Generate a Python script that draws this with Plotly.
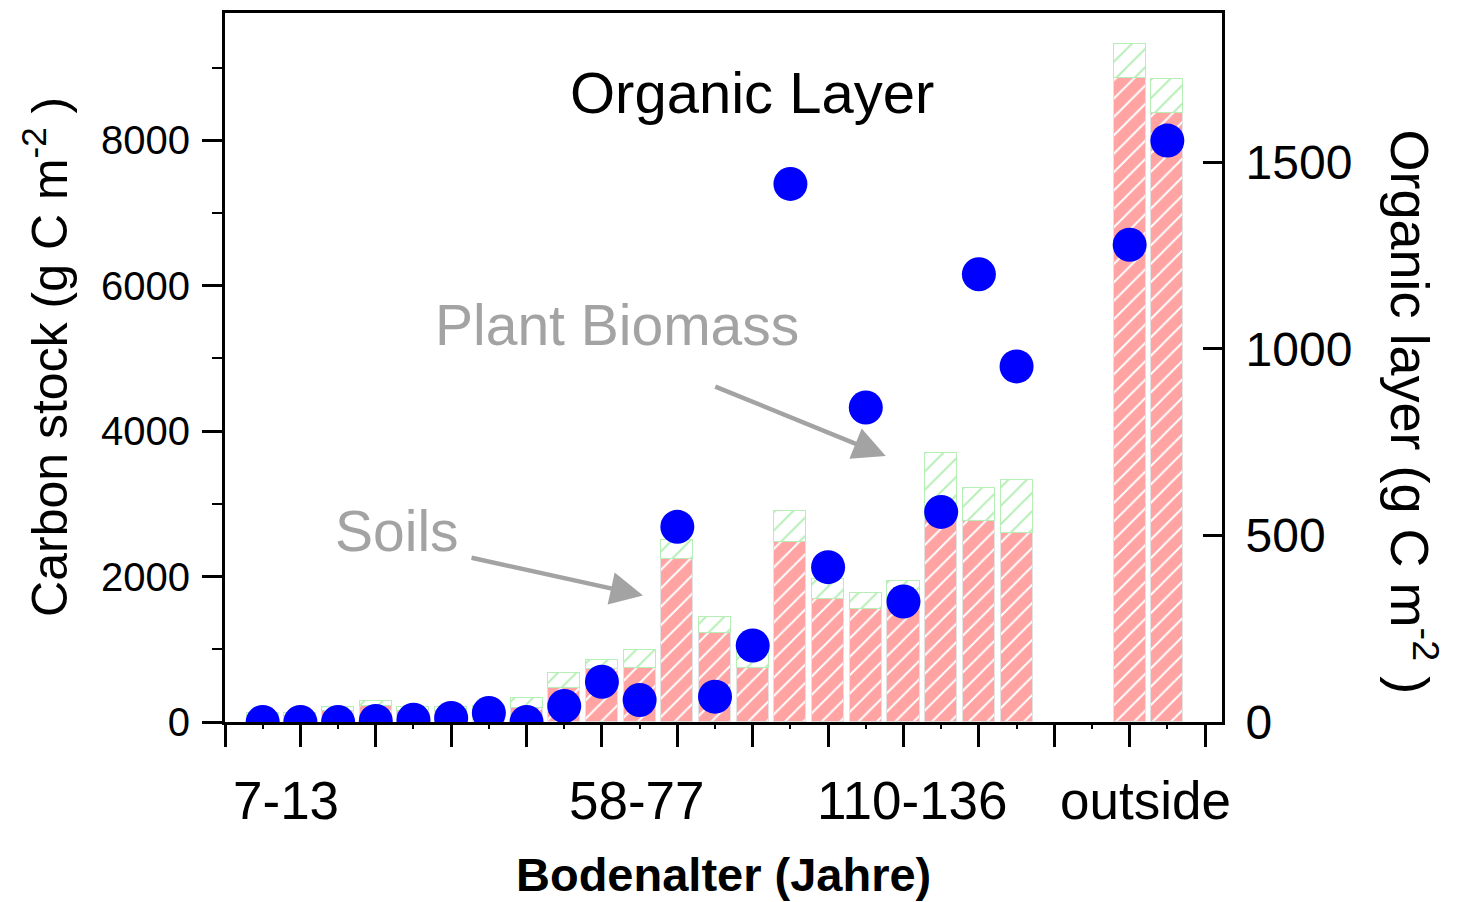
import plotly.graph_objects as go

# Site index along the soil-age sequence (gap before the two sites outside the forefield)
site_pos = [1, 2, 3, 4, 5, 6, 7, 8, 9, 10, 11, 12, 13, 14, 15, 16, 17, 18, 19, 20, 21, 24, 25]

# Carbon stocks (g C m-2), left axis
soil_c = [80, 80, 150, 223, 150, 150, 160, 196, 466, 726, 740, 2240, 1220, 740,
          2480, 1690, 1550, 1680, 2800, 2770, 2600, 8860, 8370]
plant_c = [40, 40, 50, 70, 50, 60, 60, 130, 205, 125, 245, 260, 230, 220,
           425, 270, 220, 265, 900, 450, 730, 470, 475]

# Organic layer carbon (g C m-2), right axis
organic_c = [0, 0, 0, 3, 6, 11, 24, 0, 43, 108, 59, 523, 68, 205,
             1442, 415, 843, 323, 563, 1200, 953, 1279, 1558]

# Soil-age group labels and their positions on the site axis
group_labels = ["7-13", "58-77", "110-136", "outside"]
group_pos = [1.63, 10.92, 18.24, 24.42]

FONT = "Liberation Sans, Arial, sans-serif"
PINK = "#ffa3a3"
GREEN = "#b6efb6"
GREY = "#a3a3a3"

fig = go.Figure()

fig.add_trace(go.Bar(
    x=site_pos, y=soil_c, width=0.85, name="Soils",
    marker=dict(color=PINK,
                line=dict(color="#e2e2e2", width=1.5),
                pattern=dict(shape="/", bgcolor=PINK, fgcolor="white",
                             size=13, solidity=0.15, fillmode="replace")),
    yaxis="y",
))
fig.add_trace(go.Bar(
    x=site_pos, y=plant_c, width=0.85, name="Plant Biomass",
    marker=dict(color="white",
                line=dict(color=GREEN, width=1.5),
                pattern=dict(shape="/", bgcolor="white", fgcolor=GREEN,
                             size=13, solidity=0.15, fillmode="replace")),
    yaxis="y",
))
fig.add_trace(go.Scatter(
    x=site_pos, y=organic_c, mode="markers", name="Organic Layer",
    marker=dict(color="#0000ff", size=34, line=dict(width=0)),
    yaxis="y2", cliponaxis=True,
))

annotations = []
for lab, xp in zip(group_labels, group_pos):
    annotations.append(dict(
        x=xp, y=-0.111, xref="x", yref="paper", text=lab, showarrow=False,
        xanchor="center", yanchor="middle",
        font=dict(family=FONT, size=53, color="black")))

annotations += [
    dict(x=0.5005, y=-0.215, xref="paper", yref="paper",
         text="<b>Bodenalter (Jahre)</b>", showarrow=False,
         xanchor="center", yanchor="middle",
         font=dict(family=FONT, size=47, color="black")),
    dict(x=-0.1795, y=0.515, xref="paper", yref="paper",
         text="Carbon stock (g C m<sup>-2</sup> )", showarrow=False,
         textangle=-90, xanchor="center", yanchor="middle",
         font=dict(family=FONT, size=50, color="black")),
    dict(x=1.1916, y=0.438, xref="paper", yref="paper",
         text="Organic layer (g C m<sup>-2</sup> )", showarrow=False,
         textangle=90, xanchor="center", yanchor="middle",
         font=dict(family=FONT, size=54, color="black")),
    dict(x=0.5286, y=0.8876, xref="paper", yref="paper",
         text="Organic Layer", showarrow=False,
         xanchor="center", yanchor="middle",
         font=dict(family=FONT, size=58, color="black")),
    dict(x=0.393, y=0.5604, xref="paper", yref="paper",
         text="Plant Biomass", showarrow=False,
         xanchor="center", yanchor="middle",
         font=dict(family=FONT, size=57, color=GREY)),
    dict(x=0.1725, y=0.2697, xref="paper", yref="paper",
         text="Soils", showarrow=False,
         xanchor="center", yanchor="middle",
         font=dict(family=FONT, size=57, color=GREY)),
    # pointer arrows
    dict(x=17.53, y=3658, xref="x", yref="y", ax=-172, ay=-70,
         showarrow=True, arrowhead=2, arrowsize=1.45, arrowwidth=4.5,
         arrowcolor=GREY, text=""),
    dict(x=11.09, y=1740, xref="x", yref="y", ax=-173, ay=-38,
         showarrow=True, arrowhead=2, arrowsize=1.45, arrowwidth=4.5,
         arrowcolor=GREY, text=""),
]

fig.update_layout(
    width=1466, height=902,
    margin=dict(l=225, r=244, t=10, b=180),
    paper_bgcolor="white", plot_bgcolor="white",
    barmode="stack", bargap=0,
    showlegend=False,
    font=dict(family=FONT, color="black"),
    annotations=annotations,
    xaxis=dict(
        range=[0, 26.45], showgrid=False, zeroline=False,
        showline=True, linecolor="black", linewidth=3, mirror=True,
        tickmode="linear", tick0=0, dtick=2,
        ticks="outside", ticklen=22, tickwidth=3, tickcolor="black",
        showticklabels=False,
        minor=dict(tick0=0, dtick=1, ticks="outside", ticklen=4,
                   tickwidth=2, tickcolor="black", showgrid=False),
    ),
    yaxis=dict(
        range=[0, 9750], showgrid=False, zeroline=False,
        showline=True, linecolor="black", linewidth=3, mirror=True,
        tickmode="linear", tick0=0, dtick=2000,
        ticks="outside", ticklen=20, tickwidth=2.5, tickcolor="black",
        ticklabelstandoff=4,
        tickfont=dict(family=FONT, size=40, color="black"),
        minor=dict(tick0=0, dtick=1000, ticks="outside", ticklen=10,
                   tickwidth=2, tickcolor="black", showgrid=False),
    ),
    yaxis2=dict(
        range=[0, 1900], overlaying="y", side="right",
        showgrid=False, zeroline=False,
        showline=True, linecolor="black", linewidth=3,
        tickmode="linear", tick0=0, dtick=500,
        ticks="inside", ticklen=19, tickwidth=2.5, tickcolor="black",
        ticklabelstandoff=11,
        tickfont=dict(family=FONT, size=48, color="black"),
    ),
)

fig.write_html("out.html")
